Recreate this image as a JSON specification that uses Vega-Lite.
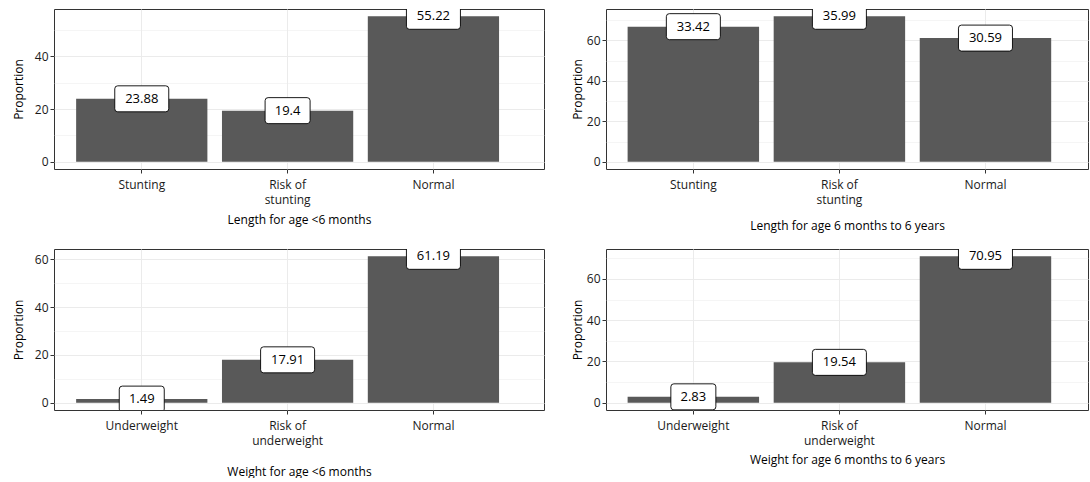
{
  "$schema": "https://vega.github.io/schema/vega-lite/v6.json",
  "padding": {"left": 11, "top": 8, "right": 0, "bottom": 0},
  "background": "white",
  "columns": 2,
  "spacing": {"row": 80, "column": 62},
  "bounds": "flush",
  "config": {
    "font": "Open Sans",
    "view": {"stroke": "#333333", "strokeWidth": 1},
    "axis": {
      "domain": false,
      "tickColor": "#333333",
      "tickSize": 4,
      "labelFont": "Open Sans",
      "labelFontSize": 12,
      "labelColor": "#1a1a1a",
      "titleFont": "Open Sans",
      "titleFontSize": 12,
      "titleFontWeight": "normal",
      "titleColor": "#000000",
      "gridColor": "#EBEBEB",
      "labelPadding": 3
    },
    "axisX": {"labelAngle": 0, "labelLineHeight": 15, "bandPosition": 0.5, "grid": true, "gridWidth": 1, "labelBaseline": "top", "labelPadding": 6},
    "axisY": {"labelPadding": 2, "titlePadding": 9}
  },
  "concat": [
    {
      "width": 490, "height": 160,
      "data": {"values": [
        {"category": "Stunting", "value": 23.88, "label": "23.88"},
        {"category": "Risk of stunting", "value": 19.4, "label": "19.4"},
        {"category": "Normal", "value": 55.22, "label": "55.22"}
      ]},
      "encoding": {
        "x": {"field": "category", "type": "nominal", "sort": null,
          "scale": {"paddingInner": 0.1, "paddingOuter": 0.23, "align": 0.33},
          "axis": {"title": "Length for age  <6 months", "titlePadding": 9,
            "labelExpr": "indexof(datum.label, 'Risk of ') == 0 ? ['Risk of', substring(datum.label, 8)] : datum.label"}},
        "y": {"field": "value", "type": "quantitative",
          "scale": {"domain": [-2.76, 57.98], "nice": false, "zero": false},
          "axis": {"title": "Proportion", "values": [0, 10, 20, 30, 40, 50],
            "labelExpr": "datum.value % 20 == 0 ? datum.label : ''",
            "tickOpacity": {"condition": {"test": "datum.value % 20 != 0", "value": 0}, "value": 1},
            "gridWidth": {"condition": {"test": "datum.value % 20 != 0", "value": 0.5}, "value": 1}}}
      },
      "layer": [
        {"mark": {"type": "bar", "color": "#595959"}},
        {"mark": {"type": "point", "filled": true, "fill": "white", "stroke": "black", "strokeWidth": 0.9, "size": 4, "opacity": 1, "clip": true},
         "encoding": {"shape": {"condition": {"test": "length(datum.label) > 4", "value": "M-24,-13H24Q27,-13 27,-10V10Q27,13 24,13H-24Q-27,13 -27,10V-10Q-27,-13 -24,-13Z"}, "value": "M-19.5,-13H19.5Q22.5,-13 22.5,-10V10Q22.5,13 19.5,13H-19.5Q-22.5,13 -22.5,10V-10Q-22.5,-13 -19.5,-13Z"}}},
        {"mark": {"type": "text", "fontSize": 13, "color": "black", "baseline": "middle", "align": "center", "clip": true},
         "encoding": {"text": {"field": "label", "type": "nominal"}}}
      ]
    },
    {
      "width": 482, "height": 160,
      "data": {"values": [
        {"category": "Stunting", "value": 66.84, "label": "33.42"},
        {"category": "Risk of stunting", "value": 71.98, "label": "35.99"},
        {"category": "Normal", "value": 61.18, "label": "30.59"}
      ]},
      "encoding": {
        "x": {"field": "category", "type": "nominal", "sort": null,
          "scale": {"paddingInner": 0.1, "paddingOuter": 0.2, "align": 0.37},
          "axis": {"title": "Length for age 6 months to 6 years", "titlePadding": 15,
            "labelExpr": "indexof(datum.label, 'Risk of ') == 0 ? ['Risk of', substring(datum.label, 8)] : datum.label"}},
        "y": {"field": "value", "type": "quantitative",
          "scale": {"domain": [-3.6, 75.58], "nice": false, "zero": false},
          "axis": {"title": "Proportion", "titlePadding": 2, "values": [0, 10, 20, 30, 40, 50, 60, 70],
            "labelExpr": "datum.value % 20 == 0 ? datum.label : ''",
            "tickOpacity": {"condition": {"test": "datum.value % 20 != 0", "value": 0}, "value": 1},
            "gridWidth": {"condition": {"test": "datum.value % 20 != 0", "value": 0.5}, "value": 1}}}
      },
      "layer": [
        {"mark": {"type": "bar", "color": "#595959"}},
        {"mark": {"type": "point", "filled": true, "fill": "white", "stroke": "black", "strokeWidth": 0.9, "size": 4, "opacity": 1, "clip": true},
         "encoding": {"shape": {"condition": {"test": "length(datum.label) > 4", "value": "M-24,-13H24Q27,-13 27,-10V10Q27,13 24,13H-24Q-27,13 -27,10V-10Q-27,-13 -24,-13Z"}, "value": "M-19.5,-13H19.5Q22.5,-13 22.5,-10V10Q22.5,13 19.5,13H-19.5Q-22.5,13 -22.5,10V-10Q-22.5,-13 -19.5,-13Z"}}},
        {"mark": {"type": "text", "fontSize": 13, "color": "black", "baseline": "middle", "align": "center", "clip": true},
         "encoding": {"text": {"field": "label", "type": "nominal"}}}
      ]
    },
    {
      "width": 490, "height": 161,
      "data": {"values": [
        {"category": "Underweight", "value": 1.49, "label": "1.49"},
        {"category": "Risk of underweight", "value": 17.91, "label": "17.91"},
        {"category": "Normal", "value": 61.19, "label": "61.19"}
      ]},
      "encoding": {
        "x": {"field": "category", "type": "nominal", "sort": null,
          "scale": {"paddingInner": 0.1, "paddingOuter": 0.23, "align": 0.33},
          "axis": {"title": "Weight for age <6 months", "titlePadding": 20,
            "labelExpr": "indexof(datum.label, 'Risk of ') == 0 ? ['Risk of', substring(datum.label, 8)] : datum.label"}},
        "y": {"field": "value", "type": "quantitative",
          "scale": {"domain": [-3.06, 64.25], "nice": false, "zero": false},
          "axis": {"title": "Proportion", "values": [0, 10, 20, 30, 40, 50, 60],
            "labelExpr": "datum.value % 20 == 0 ? datum.label : ''",
            "tickOpacity": {"condition": {"test": "datum.value % 20 != 0", "value": 0}, "value": 1},
            "gridWidth": {"condition": {"test": "datum.value % 20 != 0", "value": 0.5}, "value": 1}}}
      },
      "layer": [
        {"mark": {"type": "bar", "color": "#595959"}},
        {"mark": {"type": "point", "filled": true, "fill": "white", "stroke": "black", "strokeWidth": 0.9, "size": 4, "opacity": 1, "clip": true},
         "encoding": {"shape": {"condition": {"test": "length(datum.label) > 4", "value": "M-24,-13H24Q27,-13 27,-10V10Q27,13 24,13H-24Q-27,13 -27,10V-10Q-27,-13 -24,-13Z"}, "value": "M-19.5,-13H19.5Q22.5,-13 22.5,-10V10Q22.5,13 19.5,13H-19.5Q-22.5,13 -22.5,10V-10Q-22.5,-13 -19.5,-13Z"}}},
        {"mark": {"type": "text", "fontSize": 13, "color": "black", "baseline": "middle", "align": "center", "clip": true},
         "encoding": {"text": {"field": "label", "type": "nominal"}}}
      ]
    },
    {
      "width": 482, "height": 161,
      "data": {"values": [
        {"category": "Underweight", "value": 2.83, "label": "2.83"},
        {"category": "Risk of underweight", "value": 19.54, "label": "19.54"},
        {"category": "Normal", "value": 70.95, "label": "70.95"}
      ]},
      "encoding": {
        "x": {"field": "category", "type": "nominal", "sort": null,
          "scale": {"paddingInner": 0.1, "paddingOuter": 0.2, "align": 0.37},
          "axis": {"title": "Weight for age 6 months to 6 years", "titlePadding": 8,
            "labelExpr": "indexof(datum.label, 'Risk of ') == 0 ? ['Risk of', substring(datum.label, 8)] : datum.label"}},
        "y": {"field": "value", "type": "quantitative",
          "scale": {"domain": [-3.55, 74.5], "nice": false, "zero": false},
          "axis": {"title": "Proportion", "titlePadding": 2, "values": [0, 10, 20, 30, 40, 50, 60, 70],
            "labelExpr": "datum.value % 20 == 0 ? datum.label : ''",
            "tickOpacity": {"condition": {"test": "datum.value % 20 != 0", "value": 0}, "value": 1},
            "gridWidth": {"condition": {"test": "datum.value % 20 != 0", "value": 0.5}, "value": 1}}}
      },
      "layer": [
        {"mark": {"type": "bar", "color": "#595959"}},
        {"mark": {"type": "point", "filled": true, "fill": "white", "stroke": "black", "strokeWidth": 0.9, "size": 4, "opacity": 1, "clip": true},
         "encoding": {"shape": {"condition": {"test": "length(datum.label) > 4", "value": "M-24,-13H24Q27,-13 27,-10V10Q27,13 24,13H-24Q-27,13 -27,10V-10Q-27,-13 -24,-13Z"}, "value": "M-19.5,-13H19.5Q22.5,-13 22.5,-10V10Q22.5,13 19.5,13H-19.5Q-22.5,13 -22.5,10V-10Q-22.5,-13 -19.5,-13Z"}}},
        {"mark": {"type": "text", "fontSize": 13, "color": "black", "baseline": "middle", "align": "center", "clip": true},
         "encoding": {"text": {"field": "label", "type": "nominal"}}}
      ]
    }
  ]
}
